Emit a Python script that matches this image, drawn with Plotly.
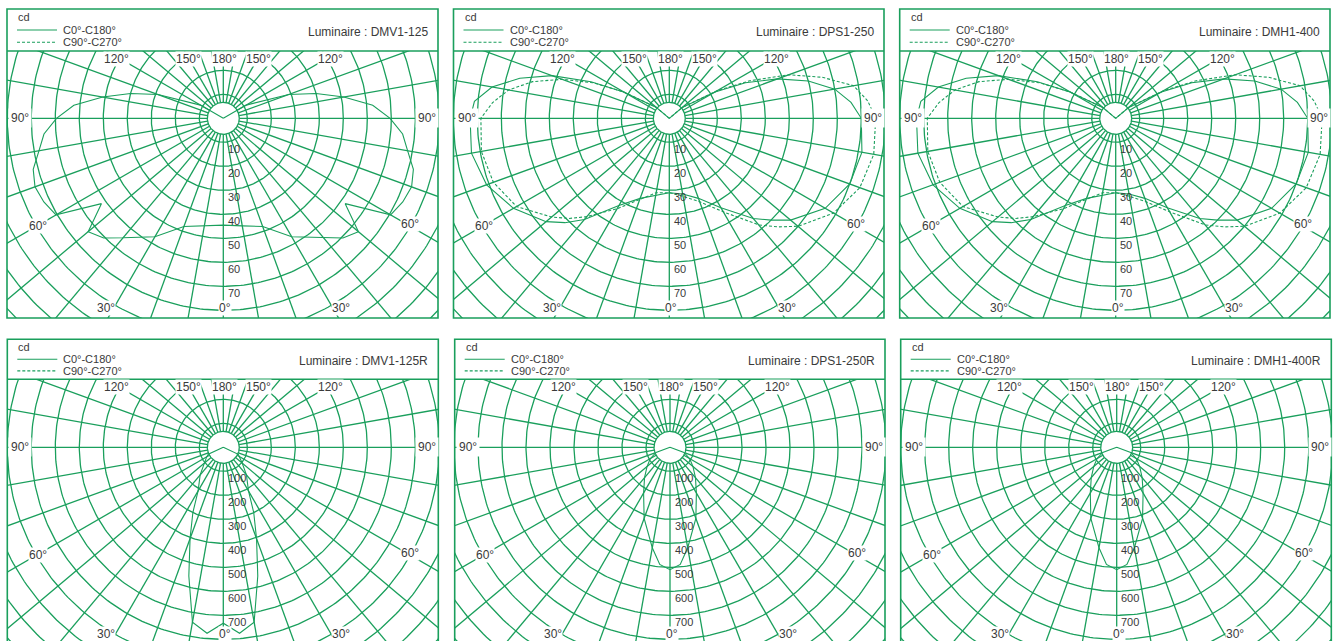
import numpy as np
import plotly.graph_objects as go

W, H = 1335, 641
GREEN = "#1a9f5c"
TXT = "#3a3a3a"
PX = 24.0  # pixels per ring

# ---------------- data (angle from nadir in degrees, intensity in cd) ----------------
ring_labels_top = [10, 20, 30, 40, 50, 60, 70]
ring_labels_bottom = [100, 200, 300, 400, 500, 600, 700]

# DMV1-125 (symmetric)
dmv1_125_ang = [0, 10, 20, 30, 40, 45, 50, 55, 60, 65, 70, 75, 80, 85, 90, 95, 100, 105, 110, 120, 130]
dmv1_125_c0 = [44.5, 45.5, 48, 57, 65, 70.5, 73.5, 62, 80.5, 82.5, 83.5, 82, 78, 75, 69.5, 62.5, 51, 40, 29, 11, 0]

# DPS1-250
dps1_250_ang = [0, 10, 20, 30, 40, 45, 50, 60, 70, 80, 90, 95, 100, 105, 110, 115, 120, 130, 140]
dps1_250_c180 = [31, 32.5, 35.5, 42, 55, 61.5, 67, 75, 81, 83.7, 83, 81.5, 75, 64.5, 52, 36, 22, 7, 0]
dps1_250_c0 = [31, 32, 35.5, 43, 54.5, 60, 66, 75, 80, 81.5, 80, 76, 70, 60, 48, 35, 22, 7, 0]
dps1_250_c270 = [31, 31.5, 36, 43.5, 53.5, 59, 64, 73.5, 78, 79.5, 78.5, 74, 68, 59, 47.5, 35, 22, 7, 0]
dps1_250_c90 = [31, 33, 37, 45, 58, 64, 70, 79, 84.5, 86.5, 86, 83, 78, 66, 53, 37, 23, 7, 0]

# DMH1-400
dmh1_400_ang = [0, 10, 20, 30, 40, 45, 50, 60, 70, 80, 90, 95, 100, 105, 110, 115, 120, 130, 140]
dmh1_400_c180 = [31, 32.5, 35.5, 42, 55, 61.5, 67, 75, 81, 83.7, 83, 81.5, 75, 64.5, 52, 36, 22, 7, 0]
dmh1_400_c0 = [31, 32, 35.5, 43, 54.5, 60, 66, 75, 80, 81.5, 80, 76, 70, 60, 48, 35, 22, 7, 0]
dmh1_400_c270 = [31, 31.5, 36, 43.5, 53.5, 59, 64, 73.5, 78, 79.5, 78.5, 74, 68, 59, 47.5, 35, 22, 7, 0]
dmh1_400_c90 = [31, 33, 37, 45, 58, 64, 70, 79, 84.5, 86.5, 86, 83, 78, 66, 53, 37, 23, 7, 0]

# DMV1-125R (symmetric)
dmv1_125r_ang = [0, 5, 10, 15, 20, 25, 30, 40, 50, 60, 65, 75]
dmv1_125r_c0 = [733, 778, 740, 555, 405, 300, 210, 150, 103, 80, 69, 0]

# DPS1-250R (symmetric)
dps1_250r_ang = [0, 5, 10, 20, 30, 40, 50, 60, 70, 80]
dps1_250r_c0 = [510, 490, 425, 315, 220, 165, 125, 95, 62, 0]

# DMH1-400R (symmetric)
dmh1_400r_ang = [0, 5, 10, 20, 30, 40, 50, 60, 70, 80]
dmh1_400r_c0 = [510, 490, 425, 315, 220, 165, 125, 95, 62, 0]

panels = [
    dict(title="DMV1-125", x0=7, x1=438, top=9, hdr=51, bottom=318, cx=223.3, cy=118.3, unit=10,
         rings=ring_labels_top, ang=dmv1_125_ang, solid=(dmv1_125_c0, dmv1_125_c0), dashed=None),
    dict(title="DPS1-250", x0=453.5, x1=884, top=9, hdr=51, bottom=318, cx=669.3, cy=118.3, unit=10,
         rings=ring_labels_top, ang=dps1_250_ang, solid=(dps1_250_c180, dps1_250_c0),
         dashed=(dps1_250_c270, dps1_250_c90)),
    dict(title="DMH1-400", x0=899.7, x1=1330, top=9, hdr=51, bottom=318, cx=1115.7, cy=118.3, unit=10,
         rings=ring_labels_top, ang=dmh1_400_ang, solid=(dmh1_400_c180, dmh1_400_c0),
         dashed=(dmh1_400_c270, dmh1_400_c90)),
    dict(title="DMV1-125R", x0=7.3, x1=438.3, top=339.3, hdr=379.3, bottom=647, cx=223.3, cy=447.3, unit=100,
         rings=ring_labels_bottom, ang=dmv1_125r_ang, solid=(dmv1_125r_c0, dmv1_125r_c0), dashed=None),
    dict(title="DPS1-250R", x0=454.7, x1=885, top=339.3, hdr=379.3, bottom=647, cx=670, cy=447.3, unit=100,
         rings=ring_labels_bottom, ang=dps1_250r_ang, solid=(dps1_250r_c0, dps1_250r_c0), dashed=None),
    dict(title="DMH1-400R", x0=900.7, x1=1331.3, top=339.3, hdr=379.3, bottom=647, cx=1116.7, cy=447.3, unit=100,
         rings=ring_labels_bottom, ang=dmh1_400r_ang, solid=(dmh1_400r_c0, dmh1_400r_c0), dashed=None),
]

fig = go.Figure()
shapes = []
annotations = []


def curve_xy(ang, left, right):
    a = np.radians(np.array(ang, dtype=float))
    L = np.array(left, dtype=float)
    R = np.array(right, dtype=float)
    xl, yl = -L * np.sin(a), -L * np.cos(a)
    xr, yr = R * np.sin(a), -R * np.cos(a)
    x = np.concatenate([xl[::-1], xr[1:]])
    y = np.concatenate([yl[::-1], yr[1:]])
    return x, y


for i, p in enumerate(panels):
    n = i + 1
    xa = "xaxis" if n == 1 else f"xaxis{n}"
    ya = "yaxis" if n == 1 else f"yaxis{n}"
    xr_ = "x" if n == 1 else f"x{n}"
    yr_ = "y" if n == 1 else f"y{n}"
    s = p["unit"] / PX  # data units per pixel
    bot = min(p["bottom"], H)
    fig.layout[xa] = dict(domain=[p["x0"] / W, p["x1"] / W],
                          range=[(p["x0"] - p["cx"]) * s, (p["x1"] - p["cx"]) * s],
                          visible=False, fixedrange=True, anchor=yr_)
    fig.layout[ya] = dict(domain=[1 - bot / H, 1 - p["hdr"] / H],
                          range=[-(bot - p["cy"]) * s, (p["cy"] - p["hdr"]) * s],
                          visible=False, fixedrange=True, anchor=xr_)

    # grid: rings
    u = p["unit"]
    t = np.linspace(0, 2 * np.pi, 361)
    gx, gy = [], []
    for k in range(1, 15):
        gx += list(k * u * np.cos(t)) + [None]
        gy += list(k * u * np.sin(t)) + [None]
    rin = 16 * s
    gx += list(rin * np.cos(t)) + [None]
    gy += list(rin * np.sin(t)) + [None]
    for d in range(0, 360, 10):
        a = np.radians(d)
        gx += [rin * np.sin(a), 15 * u * np.sin(a), None]
        gy += [-rin * np.cos(a), -15 * u * np.cos(a), None]
    fig.add_trace(go.Scatter(x=gx, y=gy, mode="lines", line=dict(color=GREEN, width=1.3),
                             hoverinfo="skip", showlegend=False, xaxis=xr_, yaxis=yr_))

    # curves
    cx_, cy_ = curve_xy(p["ang"], *p["solid"])
    fig.add_trace(go.Scatter(x=cx_, y=cy_, mode="lines", line=dict(color=GREEN, width=1.1),
                             name="C0°-C180°", showlegend=False, xaxis=xr_, yaxis=yr_))
    if p["dashed"] is not None:
        dx_, dy_ = curve_xy(p["ang"], *p["dashed"])
        fig.add_trace(go.Scatter(x=dx_, y=dy_, mode="lines", line=dict(color=GREEN, width=1.1, dash="3px,2px"),
                                 name="C90°-C270°", showlegend=False, xaxis=xr_, yaxis=yr_))

    # ring value labels
    for k, v in enumerate(p["rings"], start=1):
        annotations.append(dict(x=2.5 * s, y=-(k * PX + 6.5) * s, xref=xr_, yref=yr_, text=str(v),
                                showarrow=False, xanchor="left", yanchor="middle",
                                font=dict(size=11, color=TXT, family="Liberation Sans, Arial")))

    # angle labels (pixel offsets relative to centre)
    ytop = -(p["cy"] - p["hdr"] - 8)
    yb = min(190, H - 7 - p["cy"])
    lab_pos = [
        ("0°", 2, yb), ("30°", -117, yb), ("30°", 118, yb),
        ("60°", -185, 108), ("60°", 187, 106),
        ("90°", p["x0"] + 13 - p["cx"], 0), ("90°", p["x1"] - 11 - p["cx"], 0),
        ("120°", -107, ytop), ("120°", 107, ytop),
        ("150°", -35, ytop), ("150°", 35, ytop), ("180°", 1, ytop),
    ]
    for txt, ox, oy in lab_pos:
        pad = 2 if txt == "90°" else 0
        annotations.append(dict(x=ox * s, y=-oy * s, xref=xr_, yref=yr_, text=txt, showarrow=False,
                                xanchor="center", yanchor="middle", bgcolor="white", borderpad=pad,
                                font=dict(size=12, color=TXT, family="Liberation Sans, Arial")))

    # frame + header
    shapes.append(dict(type="rect", xref="paper", yref="paper", x0=p["x0"] / W, x1=p["x1"] / W,
                       y0=1 - p["bottom"] / H, y1=1 - p["top"] / H, line=dict(color=GREEN, width=1.6)))
    shapes.append(dict(type="line", xref="paper", yref="paper", x0=p["x0"] / W, x1=p["x1"] / W,
                       y0=1 - p["hdr"] / H, y1=1 - p["hdr"] / H, line=dict(color=GREEN, width=1.6)))
    hh = p["hdr"] - p["top"]
    l1 = p["top"] + hh * 0.5
    l2 = p["top"] + hh * 0.79
    shapes.append(dict(type="line", xref="paper", yref="paper", x0=(p["x0"] + 10) / W, x1=(p["x0"] + 50) / W,
                       y0=1 - l1 / H, y1=1 - l1 / H, line=dict(color=GREEN, width=1.1)))
    shapes.append(dict(type="line", xref="paper", yref="paper", x0=(p["x0"] + 10) / W, x1=(p["x0"] + 50) / W,
                       y0=1 - l2 / H, y1=1 - l2 / H, line=dict(color=GREEN, width=1.1, dash="3px,2px")))
    f11 = dict(size=11, color=TXT, family="Liberation Sans, Arial")
    annotations.append(dict(x=(p["x0"] + 9) / W, y=1 - (p["top"] + 8) / H, xref="paper", yref="paper",
                            text="cd", showarrow=False, xanchor="left", yanchor="middle", font=f11))
    annotations.append(dict(x=(p["x0"] + 54) / W, y=1 - l1 / H, xref="paper", yref="paper",
                            text="C0°-C180°", showarrow=False, xanchor="left", yanchor="middle", font=f11))
    annotations.append(dict(x=(p["x0"] + 54) / W, y=1 - l2 / H, xref="paper", yref="paper",
                            text="C90°-C270°", showarrow=False, xanchor="left", yanchor="middle", font=f11))
    annotations.append(dict(x=(p["x1"] - 8) / W, y=1 - (p["top"] + hh * 0.55) / H, xref="paper", yref="paper",
                            text="Luminaire : " + p["title"], showarrow=False, xanchor="right", yanchor="middle",
                            font=dict(size=12, color=TXT, family="Liberation Sans, Arial")))

fig.update_layout(width=W, height=H, margin=dict(l=0, r=0, t=0, b=0), plot_bgcolor="white",
                  paper_bgcolor="white", showlegend=False, shapes=shapes, annotations=annotations)
fig.write_html("out.html", config={"displayModeBar": False},
               post_script="document.body.style.margin='0';document.body.style.overflow='hidden';")
